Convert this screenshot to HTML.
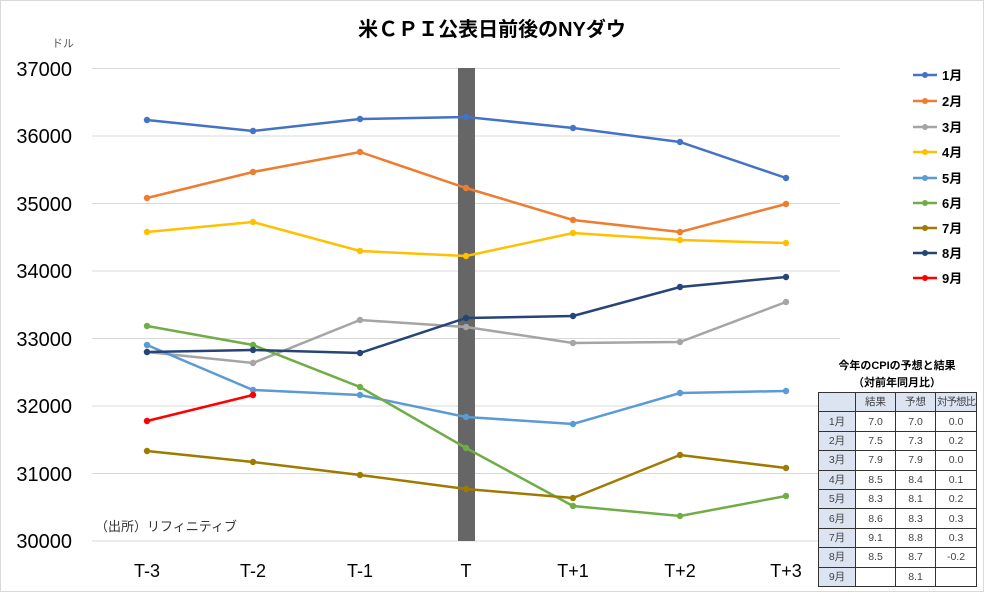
<!DOCTYPE html><html><head><meta charset="utf-8"><style>
body{margin:0;background:#fff;}
.w{position:relative;width:984px;height:592px;overflow:hidden;font-family:"Liberation Sans","Noto Sans CJK JP",sans-serif;}
table{position:absolute;left:818px;top:392px;border-collapse:collapse;font-size:10.5px;color:#444;table-layout:fixed;width:158px;}
td{border:1px solid #333;height:18.4px;line-height:18px;padding:0;text-align:center;white-space:nowrap;overflow:hidden;}
td.h{background:#dce3f1;}
</style></head><body><div class="w">
<svg width="984" height="592" style="position:absolute;left:0;top:0">
<rect x="0.5" y="0.5" width="983" height="591" fill="none" stroke="#d9d9d9"/>
<text x="492" y="36" font-size="20" font-weight="bold" text-anchor="middle" fill="#000">米ＣＰＩ公表日前後のNYダウ</text>
<text x="52" y="47" font-size="11" fill="#595959">ドル</text>
<g stroke="#d9d9d9" stroke-width="1">
<line x1="92" x2="840" y1="68.5" y2="68.5"/><line x1="92" x2="840" y1="136" y2="136"/><line x1="92" x2="840" y1="203.5" y2="203.5"/><line x1="92" x2="840" y1="271" y2="271"/><line x1="92" x2="840" y1="338.5" y2="338.5"/><line x1="92" x2="840" y1="406" y2="406"/><line x1="92" x2="840" y1="473.5" y2="473.5"/><line x1="92" x2="840" y1="541" y2="541"/>
</g>
<g font-size="20" fill="#000" text-anchor="end">
<text x="72" y="76">37000</text><text x="72" y="143">36000</text><text x="72" y="211">35000</text><text x="72" y="278">34000</text><text x="72" y="346">33000</text><text x="72" y="413">32000</text><text x="72" y="481">31000</text><text x="72" y="548">30000</text>
</g>
<g font-size="18" fill="#000" text-anchor="middle">
<text x="147" y="577">T-3</text><text x="253" y="577">T-2</text><text x="360" y="577">T-1</text><text x="466" y="577">T</text><text x="573" y="577">T+1</text><text x="680" y="577">T+2</text><text x="786" y="577">T+3</text>
</g>
<rect x="458" y="68" width="17" height="473" fill="#666"/>
<text x="95" y="531" font-size="13" fill="#333">（出所）リフィニティブ</text>
<g fill="none" stroke-width="2.5">
<polyline stroke="#4472c4" points="147,120 253,131 360,119 466,117 573,128 680,142 786,178"/>
<polyline stroke="#ed7d31" points="147,198 253,172 360,152 466,188 573,220 680,232 786,204"/>
<polyline stroke="#a5a5a5" points="147,352 253,363 360,320 466,327 573,343 680,342 786,302"/>
<polyline stroke="#ffc000" points="147,232 253,222 360,251 466,256 573,233 680,240 786,243"/>
<polyline stroke="#5b9bd5" points="147,345 253,390 360,395 466,417 573,424 680,393 786,391"/>
<polyline stroke="#70ad47" points="147,326 253,345 360,387 466,448 573,506 680,516 786,496"/>
<polyline stroke="#9e7b00" points="147,451 253,462 360,475 466,489 573,498 680,455 786,468"/>
<polyline stroke="#264478" points="147,352 253,350 360,353 466,318 573,316 680,287 786,277"/>
<polyline stroke="#ff0000" points="147,421 253,395"/>
</g>
<g id="dots"></g>
<g font-size="13" font-weight="bold" fill="#000">
<line x1="913" x2="937" y1="75" y2="75" stroke="#4472c4" stroke-width="2.5"/><circle cx="925" cy="75" r="3" fill="#4472c4"/><text x="942" y="80">1月</text>
<line x1="913" x2="937" y1="101" y2="101" stroke="#ed7d31" stroke-width="2.5"/><circle cx="925" cy="101" r="3" fill="#ed7d31"/><text x="942" y="106">2月</text>
<line x1="913" x2="937" y1="127" y2="127" stroke="#a5a5a5" stroke-width="2.5"/><circle cx="925" cy="127" r="3" fill="#a5a5a5"/><text x="942" y="132">3月</text>
<line x1="913" x2="937" y1="152" y2="152" stroke="#ffc000" stroke-width="2.5"/><circle cx="925" cy="152" r="3" fill="#ffc000"/><text x="942" y="157">4月</text>
<line x1="913" x2="937" y1="178" y2="178" stroke="#5b9bd5" stroke-width="2.5"/><circle cx="925" cy="178" r="3" fill="#5b9bd5"/><text x="942" y="183">5月</text>
<line x1="913" x2="937" y1="203" y2="203" stroke="#70ad47" stroke-width="2.5"/><circle cx="925" cy="203" r="3" fill="#70ad47"/><text x="942" y="208">6月</text>
<line x1="913" x2="937" y1="228" y2="228" stroke="#9e7b00" stroke-width="2.5"/><circle cx="925" cy="228" r="3" fill="#9e7b00"/><text x="942" y="233">7月</text>
<line x1="913" x2="937" y1="253" y2="253" stroke="#264478" stroke-width="2.5"/><circle cx="925" cy="253" r="3" fill="#264478"/><text x="942" y="258">8月</text>
<line x1="913" x2="937" y1="278" y2="278" stroke="#ff0000" stroke-width="2.5"/><circle cx="925" cy="278" r="3" fill="#ff0000"/><text x="942" y="283">9月</text>
</g>
<text x="897" y="369" font-size="11" font-weight="bold" text-anchor="middle" fill="#000">今年のCPIの予想と結果</text>
<text x="897" y="386" font-size="11" font-weight="bold" text-anchor="middle" fill="#000">（対前年同月比）</text>
</svg>
<table>
<colgroup><col style="width:37px"><col style="width:40px"><col style="width:40px"><col style="width:41px"></colgroup>
<tr><td class="h"></td><td class="h">結果</td><td class="h">予想</td><td class="h" style="letter-spacing:-1px">対予想比</td></tr>
<tr><td class="h">1月</td><td>7.0</td><td>7.0</td><td>0.0</td></tr>
<tr><td class="h">2月</td><td>7.5</td><td>7.3</td><td>0.2</td></tr>
<tr><td class="h">3月</td><td>7.9</td><td>7.9</td><td>0.0</td></tr>
<tr><td class="h">4月</td><td>8.5</td><td>8.4</td><td>0.1</td></tr>
<tr><td class="h">5月</td><td>8.3</td><td>8.1</td><td>0.2</td></tr>
<tr><td class="h">6月</td><td>8.6</td><td>8.3</td><td>0.3</td></tr>
<tr><td class="h">7月</td><td>9.1</td><td>8.8</td><td>0.3</td></tr>
<tr><td class="h">8月</td><td>8.5</td><td>8.7</td><td>-0.2</td></tr>
<tr><td class="h">9月</td><td></td><td>8.1</td><td></td></tr>
</table>
<script>
var g=document.getElementById('dots');
document.querySelectorAll('polyline').forEach(function(p){var c=p.getAttribute('stroke');p.getAttribute('points').split(' ').forEach(function(s){var a=s.split(',');var e=document.createElementNS('http://www.w3.org/2000/svg','circle');e.setAttribute('cx',a[0]);e.setAttribute('cy',a[1]);e.setAttribute('r','3.2');e.setAttribute('fill',c);g.appendChild(e);});});
</script>
</div></body></html>
